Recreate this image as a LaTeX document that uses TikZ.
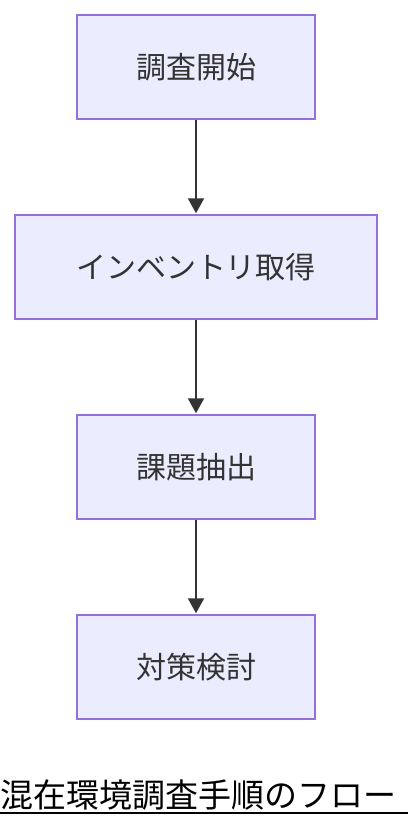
\documentclass[tikz,border=0pt]{standalone}
\usepackage{fontspec}
\setmainfont{Noto Sans CJK JP}
\usetikzlibrary{arrows.meta}
\definecolor{boxfill}{HTML}{ECECFF}
\definecolor{boxline}{HTML}{9370DB}
\definecolor{arr}{HTML}{333333}
\begin{document}
\begin{tikzpicture}[x=1pt,y=-1pt,
  stepbox/.style={draw=boxline,fill=boxfill,line width=1.5pt,minimum height=104pt,inner sep=0pt,font=\fontsize{30}{34}\selectfont,text=arr},
  flow/.style={draw=arr,line width=2pt,-{Triangle[length=15pt,width=16pt]},shorten >=1pt}]
\useasboundingbox (0,0) rectangle (408,828);
\node[stepbox,minimum width=238pt] (a) at (196,67) {調査開始};
\node[stepbox,minimum width=362pt] (b) at (196,267) {インベントリ取得};
\node[stepbox,minimum width=238pt] (c) at (196,467) {課題抽出};
\node[stepbox,minimum width=238pt] (d) at (196,667) {対策検討};
\draw[flow] (a) -- (b);
\draw[flow] (b) -- (c);
\draw[flow] (c) -- (d);
\node[anchor=base west,inner sep=0pt,font=\fontsize{33}{38}\selectfont] (t) at (0,807) {混在環境調査手順のフロー};
\coordinate (ul) at (0,813);
\coordinate (ur) at (408,813);
\draw[line width=2pt] (ul) -- (ur);
\end{tikzpicture}
\end{document}
